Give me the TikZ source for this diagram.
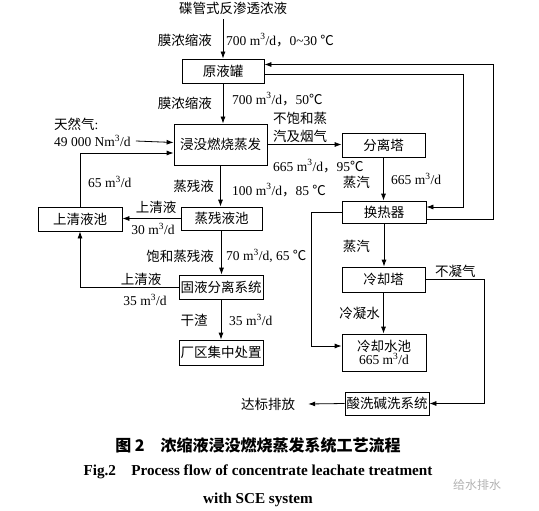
\documentclass[tikz,border=0pt]{standalone}
\usepackage{fontspec}
\setmainfont{Liberation Serif}
\newfontfamily\cjk{Noto Sans CJK SC}
\usetikzlibrary{arrows.meta, positioning, calc}
\newcommand{\mpd}{m\textsuperscript{3}/d}

\begin{document}
\begin{tikzpicture}[x=1pt, y=-1pt,
    box/.style={rectangle, draw, line width=0.8pt, minimum width=83pt, minimum height=24pt, inner sep=1pt, align=center, font=\cjk\fontsize{13.5}{15}\selectfont},
    lab/.style={inner sep=1pt, font=\fontsize{13.5}{15}\selectfont},
    zlab/.style={inner sep=1pt, align=left, font=\cjk\fontsize{13.5}{15}\selectfont},
    arrow/.style={-{Latex[length=7pt,width=5pt]}, line width=0.8pt}
  ]
    \useasboundingbox (0,0) rectangle (539,511);

    % process units
    \node[zlab] (src) at (233,8) {碟管式反渗透浓液};
    \node[box, minimum width=82pt] (tank) at (223,71) {原液罐};
    \node[box, minimum width=93pt, minimum height=41pt] (evap) at (220.5,144.5) {浸没燃烧蒸发};
    \node[box] (sep) at (383.5,145) {分离塔};
    \node[box, minimum width=84pt, minimum height=22pt] (hx) at (384,212) {换热器};
    \node[box, minimum height=25pt] (cool) at (383.5,279.5) {冷却塔};
    \node[box, minimum width=84pt, minimum height=37pt] (pool) at (384,352.5) {冷却水池\\[-2pt]{\rmfamily 665 \mpd}};
    \node[box, minimum width=84pt, minimum height=23pt] (scrub) at (387,403.5) {酸洗碱洗系统};
    \node[box, minimum width=84pt] (clear) at (80,219) {上清液池};
    \node[box, minimum width=81pt, minimum height=23pt] (resid) at (221.5,218.5) {蒸残液池};
    \node[box, minimum width=84pt] (solid) at (221,287) {固液分离系统};
    \node[box, minimum width=84pt, minimum height=25pt] (plant) at (221,352.5) {厂区集中处置};
    \node[zlab] (out) at (268,404) {达标排放};

    % stream labels
    \node[zlab, anchor=east] (feedname) at (213,40) {膜浓缩液};
    \node[lab, anchor=west] (feedrate) at (225,40) {700 \mpd{\cjk ，}0\textasciitilde30 {\cjk ℃}};
    \node[zlab, anchor=east] (tankname) at (213,103) {膜浓缩液};
    \node[lab, anchor=west] (tankrate) at (231,99) {700 \mpd{\cjk ，}50{\cjk ℃}};
    \node[lab, anchor=west] (gasname) at (53,124) {{\cjk 天然气}:};
    \node[lab, anchor=west] (gas) at (53,141) {49 000 N\mpd};
    \node[lab, anchor=west] (backrate) at (87,182) {65 \mpd};
    \node[zlab, anchor=east] (residname) at (215,186) {蒸残液};
    \node[lab, anchor=west] (residrate) at (231,190) {100 \mpd{\cjk ，}85 {\cjk ℃}};
    \node[zlab] (clearname) at (156,207) {上清液};
    \node[lab] (clearrate) at (153,229) {30 \mpd};
    \node[zlab, anchor=east] (satname) at (215,256) {饱和蒸残液};
    \node[lab, anchor=west] (satrate) at (225,256) {70 \mpd, 65 {\cjk ℃}};
    \node[zlab] (topname) at (141,279) {上清液};
    \node[lab] (toprate) at (145,300) {35 \mpd};
    \node[zlab] (slagname) at (194,320) {干渣};
    \node[lab, anchor=west] (slagrate) at (228,320) {35 \mpd};
    \node[zlab, anchor=west] (gasout) at (272,127) {不饱和蒸\\[3pt]汽及烟气};
    \node[lab, anchor=west] (gasrate) at (272,166) {665 \mpd{\cjk ，}95{\cjk ℃}};
    \node[zlab, anchor=east] (steam1) at (371,182) {蒸汽};
    \node[lab, anchor=west] (steamrate) at (390,179) {665 \mpd};
    \node[zlab, anchor=east] (steam2) at (371,246) {蒸汽};
    \node[zlab, anchor=east] (condname) at (381,313) {冷凝水};
    \node[zlab, anchor=west] (ncgname) at (434,271) {不凝气};

    % connectors
    \draw[arrow] (tank |- src.south) ++(0,4) -- (tank);
    \draw[arrow] (tank.south) -- (tank.south |- evap.north);
    \draw[arrow] ([xshift=4pt]gas.east) -- ([yshift=2pt]evap.west);
    \draw[arrow] (clear.north) |- ([yshift=-8.5pt]evap.west);
    \draw[arrow] (evap.south) -- (evap.south |- resid.north);
    \draw[arrow] (resid.west) -- (resid.west -| clear.east);
    \draw[arrow] (resid.south) -- (resid.south |- solid.north);
    \draw[arrow] (solid.west) -| (clear.south);
    \draw[arrow] (solid.south) -- (solid.south |- plant.north);
    \draw[arrow] (evap.east) -- (evap.east -| sep.west);
    \draw[arrow] (sep.south) -- (sep.south |- hx.north);
    \draw[arrow] (hx.south) -- (hx.south |- cool.north);
    \draw[arrow] (cool.south) -- (cool.south |- pool.north);
    \draw[arrow] (hx.west) -- ++(-30,0) |- ([yshift=6.5pt]pool.west);
    \draw[arrow] (cool.east) -- ++(59,0) |- (scrub.east);
    \draw[arrow] (scrub.west) -- ([xshift=12pt]out.east);
    \draw[arrow] ([yshift=-3pt]tank.east) -- ++(199,0) |- ([yshift=5pt]hx.east);
    \draw[arrow] ([yshift=-7pt]hx.east) -- ++(67,0) |- ([yshift=6.5pt]tank.east);

    % caption
    \node[font=\cjk\bfseries\fontsize{16}{18}\selectfont] (capzh) at (258,445) {图 2\quad 浓缩液浸没燃烧蒸发系统工艺流程};
    \node[font=\bfseries\fontsize{15.2}{17}\selectfont] (capen) at (258,472) {Fig.2\quad Process flow of concentrate leachate treatment};
    \node[font=\bfseries\fontsize{15.2}{17}\selectfont] (capen2) at (258,500) {with SCE system};
    \node[font=\cjk\fontsize{12}{14}\selectfont, text=gray!60] (mark) at (477,485) {给水排水};
  \end{tikzpicture}
\end{document}
